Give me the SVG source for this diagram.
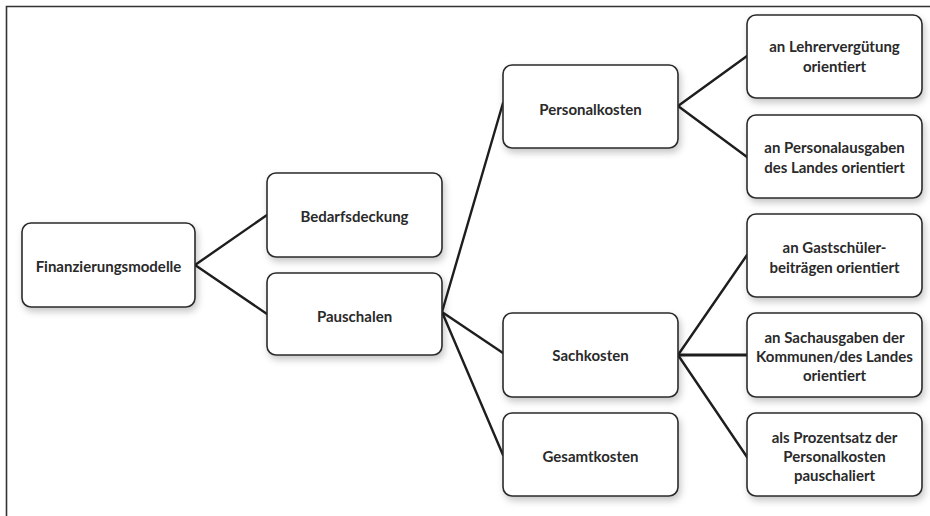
<svg xmlns="http://www.w3.org/2000/svg" width="930" height="516" viewBox="0 0 930 516">
<defs>
<filter id="sh" x="-10%" y="-10%" width="125%" height="135%">
<feDropShadow dx="2" dy="4" stdDeviation="3.5" flood-color="#000" flood-opacity="0.22"/>
</filter>
<style>
.box{fill:#fff;stroke:#2a2a2a;stroke-width:1.6;filter:url(#sh)}
.t{font-family:Lato,"Open Sans","Liberation Sans",sans-serif;font-weight:bold;font-size:15px;fill:#2a2a2a;text-anchor:middle}
.c{stroke:#1e1e1e;stroke-width:2.4;fill:none;stroke-linecap:round}
.frame{stroke:#333;stroke-width:1.6;fill:none}
</style>
</defs>
<rect width="930" height="516" fill="#fff"/>
<path class="frame" d="M6.5 516 V6.5 H930"/>
<g id="connectors">
<line class="c" x1="195" y1="265" x2="267" y2="215"/>
<line class="c" x1="195" y1="265" x2="267" y2="314"/>
<line class="c" x1="442" y1="312" x2="503" y2="103"/>
<line class="c" x1="442" y1="312" x2="503" y2="353"/>
<line class="c" x1="442" y1="312" x2="503" y2="455"/>
<line class="c" x1="678" y1="106" x2="747" y2="56"/>
<line class="c" x1="678" y1="106" x2="747" y2="157"/>
<line class="c" x1="678" y1="355" x2="747" y2="255"/>
<line class="c" x1="678" y1="355" x2="747" y2="355" style="stroke-width:3"/>
<line class="c" x1="678" y1="355" x2="747" y2="457"/>
</g>
<g id="finanzierungsmodelle">
<rect class="box" x="22" y="223" width="173" height="84" rx="9"/>
<text class="t" x="108.5" y="272">Finanzierungsmodelle</text>
</g>
<g id="bedarfsdeckung">
<rect class="box" x="267" y="173" width="175" height="84" rx="9"/>
<text class="t" x="354.5" y="222">Bedarfsdeckung</text>
</g>
<g id="pauschalen">
<rect class="box" x="267" y="273" width="175" height="82" rx="9"/>
<text class="t" x="354.5" y="322">Pauschalen</text>
</g>
<g id="personalkosten">
<rect class="box" x="503" y="65" width="175" height="83" rx="9"/>
<text class="t" x="590.5" y="115">Personalkosten</text>
</g>
<g id="sachkosten">
<rect class="box" x="503" y="313" width="175" height="84" rx="9"/>
<text class="t" x="590.5" y="361">Sachkosten</text>
</g>
<g id="gesamtkosten">
<rect class="box" x="503" y="413" width="175" height="83" rx="9"/>
<text class="t" x="590.5" y="462">Gesamtkosten</text>
</g>
<g id="lehrerverguetung">
<rect class="box" x="747" y="15" width="175" height="83" rx="9"/>
<text class="t" x="834.5" y="52">an Lehrervergütung</text>
<text class="t" x="834.5" y="72">orientiert</text>
</g>
<g id="personalausgaben">
<rect class="box" x="747" y="115" width="175" height="83" rx="9"/>
<text class="t" x="834.5" y="153">an Personalausgaben</text>
<text class="t" x="834.5" y="173">des Landes orientiert</text>
</g>
<g id="gastschueler">
<rect class="box" x="747" y="214" width="175" height="83" rx="9"/>
<text class="t" x="834.5" y="253">an Gastschüler-</text>
<text class="t" x="834.5" y="273">beiträgen orientiert</text>
</g>
<g id="sachausgaben">
<rect class="box" x="747" y="313" width="175" height="84" rx="9"/>
<text class="t" x="834.5" y="343">an Sachausgaben der</text>
<text class="t" x="834.5" y="362">Kommunen/des Landes</text>
<text class="t" x="834.5" y="381">orientiert</text>
</g>
<g id="prozentsatz">
<rect class="box" x="747" y="413" width="175" height="83" rx="9"/>
<text class="t" x="834.5" y="443">als Prozentsatz der</text>
<text class="t" x="834.5" y="462">Personalkosten</text>
<text class="t" x="834.5" y="481">pauschaliert</text>
</g>
</svg>
